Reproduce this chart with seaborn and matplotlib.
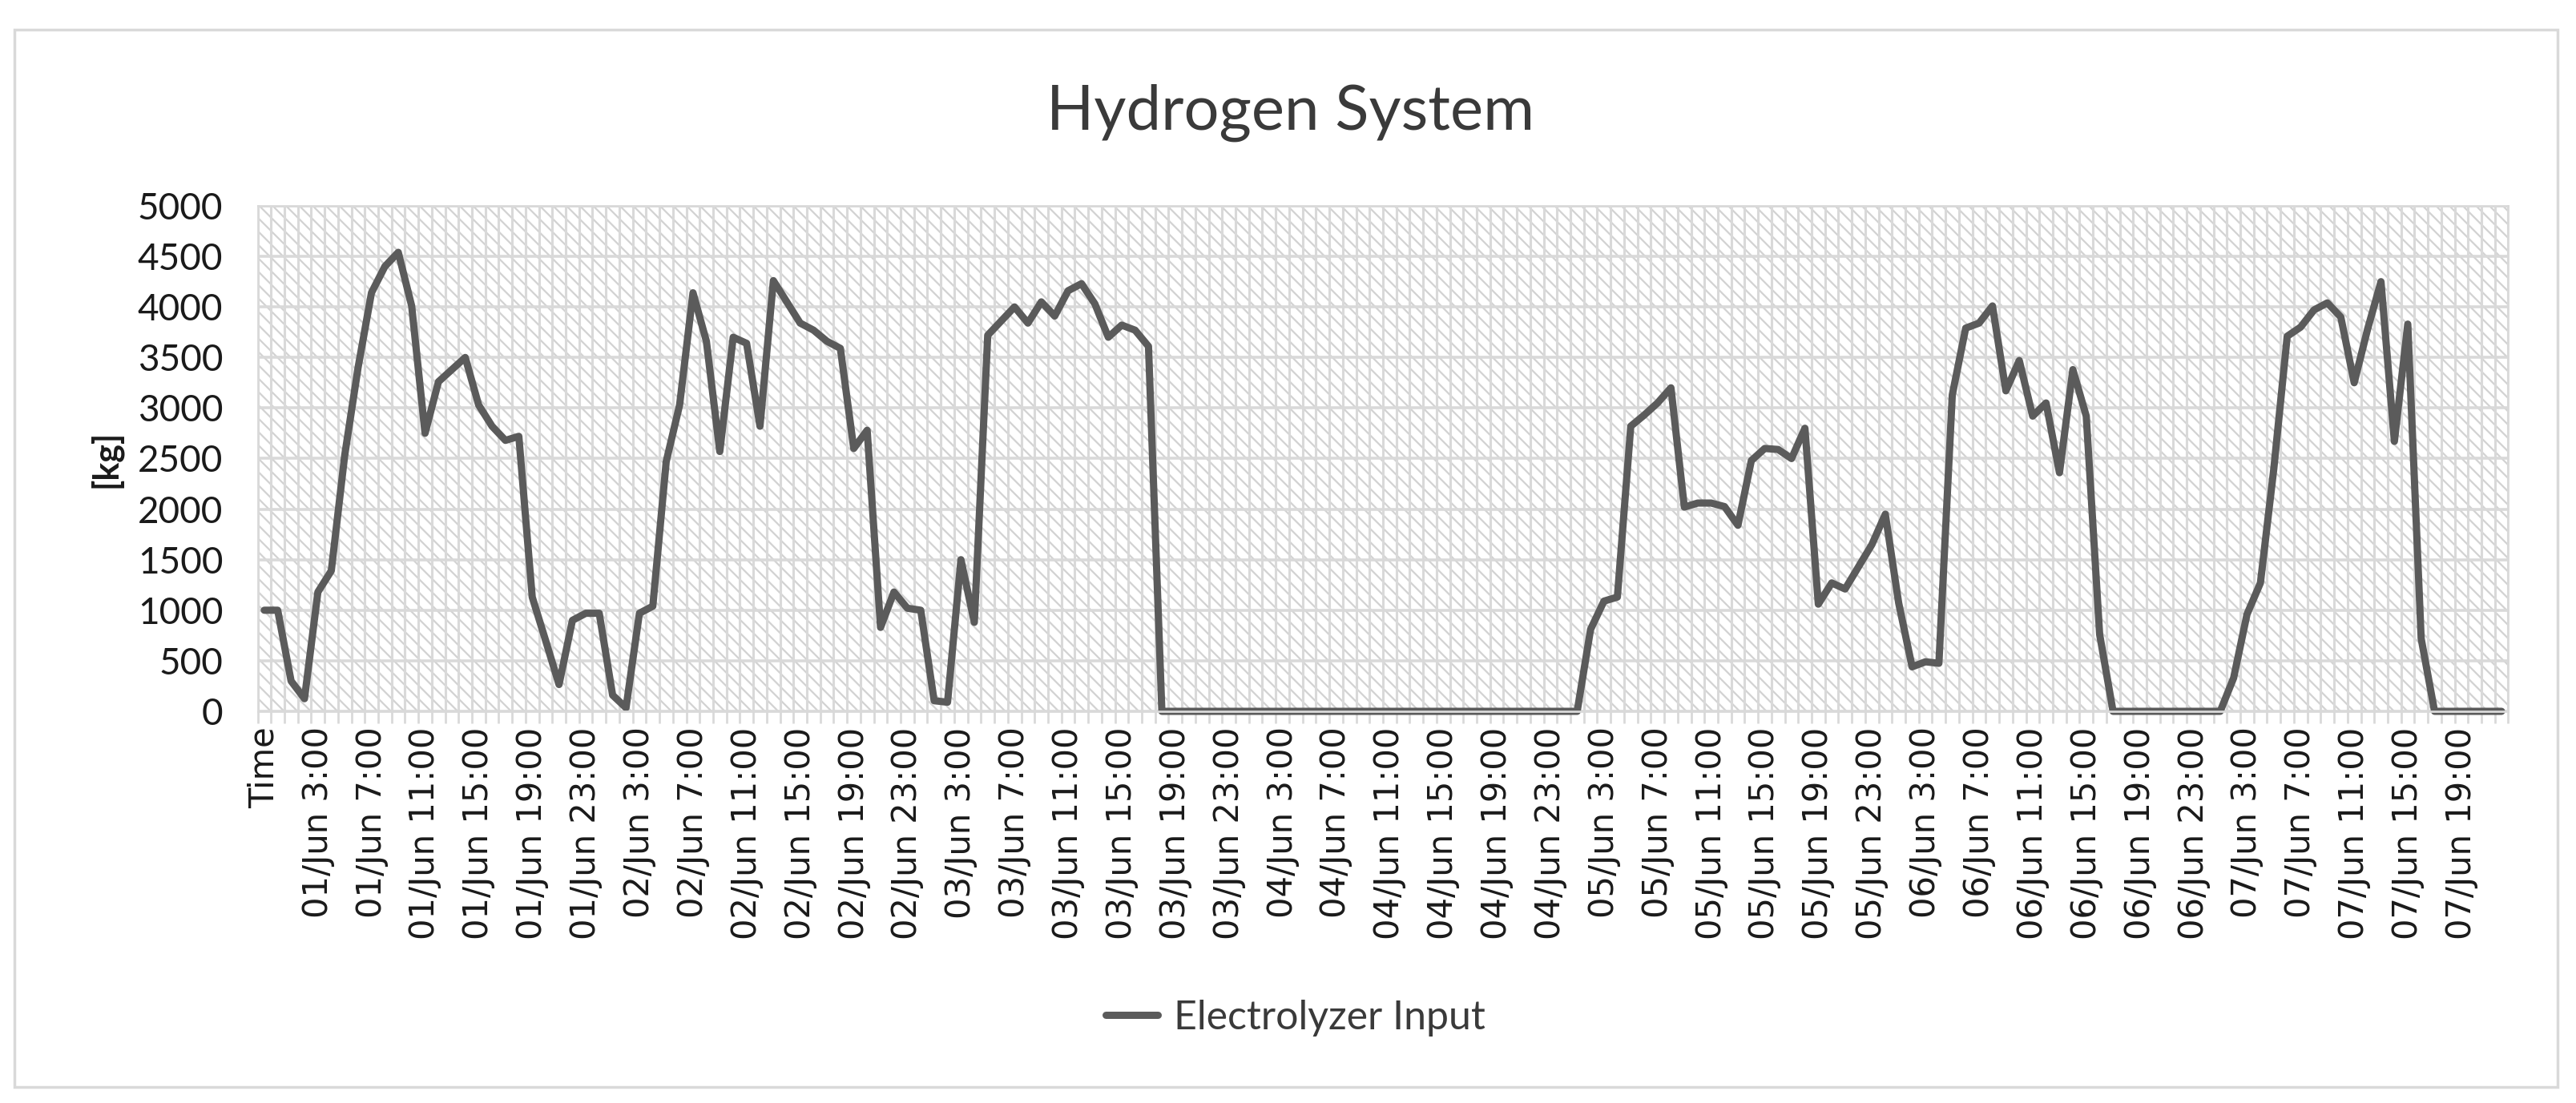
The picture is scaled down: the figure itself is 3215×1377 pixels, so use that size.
import matplotlib
matplotlib.use("Agg")
import matplotlib.pyplot as plt
from matplotlib.patches import Rectangle
import numpy as np
import pandas as pd
import seaborn as sns

TITLE = "Hydrogen System"
SERIES = "Electrolyzer Input"
Y_LABEL = "[kg]"

# category axis: header cell + hourly stamps (Excel shows every 4th)
time_labels = ["Time"] + [f"{d:02d}/Jun {h}:00" for d in range(1, 8) for h in range(24)][:167]

# hourly electrolyzer input [kg]
electrolyzer_input = [
    1000, 1000, 300, 125, 1180, 1390, 2530, 3400, 4140, 4400, 4540, 4010,
    2750, 3260, 3380, 3500, 3030, 2820, 2680, 2720, 1130, 700, 265, 900,
    970, 970, 160, 35, 970, 1040, 2470, 3030, 4140, 3660, 2570, 3700,
    3640, 2820, 4260, 4050, 3840, 3770, 3660, 3590, 2600, 2780, 830, 1180,
    1020, 1000, 105, 90, 1500, 880, 3720, 3860, 4000, 3840, 4050, 3910,
    4160, 4230, 4030, 3700, 3820, 3770, 3610, 0, 0, 0, 0, 0,
    0, 0, 0, 0, 0, 0, 0, 0, 0, 0, 0, 0,
    0, 0, 0, 0, 0, 0, 0, 0, 0, 0, 0, 0,
    0, 0, 0, 810, 1090, 1130, 2820, 2930, 3050, 3200, 2020, 2060,
    2060, 2025, 1840, 2480, 2600, 2590, 2500, 2800, 1060, 1270, 1210, 1430,
    1650, 1950, 1070, 440, 490, 475, 3130, 3790, 3840, 4010, 3170, 3470,
    2920, 3050, 2360, 3380, 2920, 760, 0, 0, 0, 0, 0, 0,
    0, 0, 0, 330, 960, 1270, 2400, 3710, 3800, 3970, 4040, 3900,
    3250, 3780, 4250, 2670, 3830, 720, 0, 0, 0, 0, 0, 0,
]
assert len(electrolyzer_input) == len(time_labels)

df = pd.DataFrame({"pos": np.arange(len(time_labels)), "kg": electrolyzer_input})

sns.set_theme(style="white")
plt.rcParams["font.family"] = ["Lato", "DejaVu Sans"]
plt.rcParams["hatch.linewidth"] = 1.6

GRID = "#d9d9d9"
LINE = "#5b5b5b"

fig = plt.figure(figsize=(32.15, 13.77), dpi=100)
ax = fig.add_axes([0.1000, 0.3551, 0.8737, 0.4583])

# patterned plot area like the Excel fill
ax.add_patch(Rectangle((0, 0), 1, 1, transform=ax.transAxes, facecolor="white",
                       edgecolor="#d2d2d2", hatch="\\\\", lw=0, zorder=0))

sns.lineplot(data=df, x="pos", y="kg", ax=ax, color=LINE, lw=6.5,
             label=SERIES, legend=False, sort=False)
for ln in ax.lines:
    ln.set_clip_on(False)
    ln.set_solid_joinstyle("round")
    ln.set_solid_capstyle("round")

ax.set_xlim(-0.5, len(time_labels) - 0.5)
ax.set_ylim(0, 5000)
ax.set_yticks(np.arange(0, 5001, 500))
major = np.arange(0, len(time_labels), 4)
ax.set_xticks(major)
ax.set_xticklabels([time_labels[i] for i in major])
ax.set_xticks(np.arange(-0.5, len(time_labels), 1), minor=True)

ax.set_axisbelow(True)
ax.grid(which="minor", axis="x", color=GRID, lw=2.2)
ax.grid(which="major", axis="y", color=GRID, lw=2.6)
ax.grid(which="major", axis="x", visible=False)

ax.tick_params(axis="x", which="major", length=0, pad=14)
ax.tick_params(axis="x", which="minor", length=11, width=2, color=GRID, bottom=True)
ax.tick_params(axis="y", length=0, pad=31, labelsize=33, labelcolor="#1a1a1a")
ax.set_xlabel("")
ax.set_ylabel("")
for s in ax.spines.values():
    s.set_color(GRID)
    s.set_linewidth(2)

plt.setp(ax.get_xticklabels(), rotation=90, ha="center", va="top",
         fontfamily="DejaVu Sans", fontsize=30, color="#1a1a1a")

fig.text(0.5008, 0.898, TITLE, ha="center", va="center", fontsize=56, color="#3a3a3a")
fig.text(0.041, 0.584, Y_LABEL, rotation=90, ha="center", va="center",
         fontsize=31, fontweight="bold", color="#1a1a1a")

fig.legend(loc="center", bbox_to_anchor=(0.503, 0.077), frameon=False, fontsize=36,
           handlelength=1.3, handletextpad=0.4, labelcolor="#3a3a3a")

# chart area border
fig.add_artist(Rectangle((18 / 3215, 1 - 1357 / 1377), (3192 - 18) / 3215, (1357 - 37) / 1377,
                         transform=fig.transFigure, fill=False, edgecolor=GRID, lw=2.5))

fig.savefig("out.png", dpi=100)
plt.close(fig)
